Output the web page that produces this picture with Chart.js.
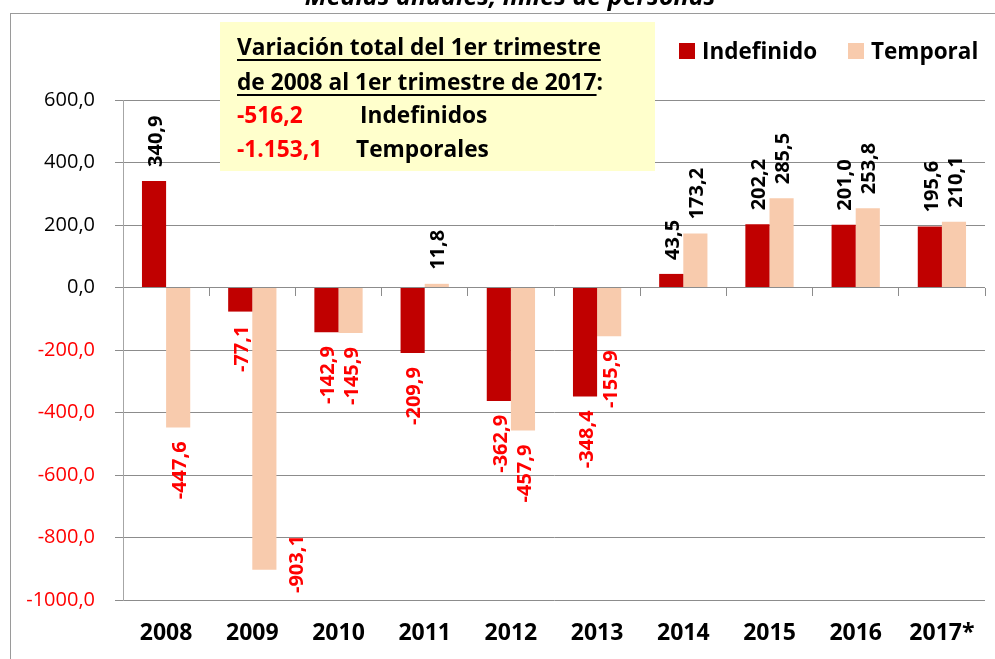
<!DOCTYPE html>
<html>
<head>
<meta charset="utf-8">
<script src="https://cdn.jsdelivr.net/npm/chart.js@4/dist/chart.umd.min.js"></script>
<style>
  html, body { margin: 0; padding: 0; background: #fff; }
  #wrap { width: 995px; height: 659px; position: relative; }
</style>
</head>
<body>
<div id="wrap"><canvas id="chart"></canvas></div>
<script>
const years = ['2008', '2009', '2010', '2011', '2012', '2013', '2014', '2015', '2016', '2017*'];
const indefinido = [340.9, -77.1, -142.9, -209.9, -362.9, -348.4, 43.5, 202.2, 201.0, 195.6];
const temporal = [-447.6, -903.1, -145.9, 11.8, -457.9, -155.9, 173.2, 285.5, 253.8, 210.1];
const yTicks = [600, 400, 200, 0, -200, -400, -600, -800, -1000];

const totalIndefinido = -516.2;
const totalTemporal = -1153.1;

const RED = '#C00000';
const PEACH = '#F8CBAD';
const GRID = '#8c8c8c';
const FONT = '"Open Sans", "Noto Sans", sans-serif';

// 1234.5 -> "1.234,5" ; grouping only for the summary box
function fmt(v, group) {
  const s = Math.abs(v).toFixed(1).split('.');
  let int = s[0];
  if (group) int = int.replace(/\B(?=(\d{3})+(?!\d))/g, '.');
  return (v < 0 ? '-' : '') + int + ',' + s[1];
}

const decorPlugin = {
  id: 'decor',
  beforeDraw(chart) {
    const ctx = chart.ctx;
    ctx.save();
    ctx.fillStyle = '#fff';
    ctx.fillRect(0, 0, chart.width, chart.height);
    ctx.strokeStyle = '#9a9a9a';
    ctx.lineWidth = 1;
    ctx.strokeRect(10.5, 13.5, 1000, 700);
    // title, mostly cut off at the top
    ctx.fillStyle = '#000';
    ctx.font = 'italic bold 25px ' + FONT;
    ctx.textAlign = 'center';
    ctx.textBaseline = 'alphabetic';
    ctx.fillText('Medias anuales, miles de personas', 510, 5);
    ctx.restore();
  },
  afterDatasetsDraw(chart) {
    const ctx = chart.ctx;
    const area = chart.chartArea;
    ctx.save();
    ctx.font = 'bold 20px ' + FONT;
    chart.data.datasets.forEach((ds, di) => {
      const meta = chart.getDatasetMeta(di);
      meta.data.forEach((bar, i) => {
        const v = ds.data[i];
        const txt = fmt(v, false);
        const w = ctx.measureText(txt).width;
        let x = bar.x + 2;
        let y;
        ctx.save();
        ctx.font = 'bold 20px ' + FONT;
        if (v >= 0) {
          ctx.fillStyle = '#000';
          y = bar.y - 14;
          ctx.translate(x, y);
          ctx.rotate(-Math.PI / 2);
          ctx.textAlign = 'left';
        } else {
          ctx.fillStyle = '#FF0000';
          y = bar.y + 14;
          if (y + w > area.bottom - 4) {
            // no room below the bar: put it beside
            x = bar.x + bar.width + 9;
            y = area.bottom - 7 - w;
          }
          ctx.translate(x, y);
          ctx.rotate(-Math.PI / 2);
          ctx.textAlign = 'right';
        }
        ctx.textBaseline = 'middle';
        ctx.fillText(txt, 0, 0);
        ctx.restore();
      });
    });
    ctx.restore();
  },
  afterDraw(chart) {
    const ctx = chart.ctx;
    ctx.save();
    // summary box
    ctx.fillStyle = '#FFFFCC';
    ctx.fillRect(220, 22, 435, 149);
    ctx.textBaseline = 'alphabetic';
    ctx.textAlign = 'left';
    ctx.font = 'bold 22.7px ' + FONT;
    ctx.fillStyle = '#000';
    const l1 = 'Variación total del 1er trimestre';
    const l2 = 'de 2008 al 1er trimestre de 2017';
    ctx.fillText(l1, 237, 55);
    ctx.fillText(l2, 237, 90);
    const w2 = ctx.measureText(l2).width;
    ctx.fillText(':', 237 + w2, 90);
    ctx.fillRect(237, 59, ctx.measureText(l1).width, 2);
    ctx.fillRect(237, 94, w2, 2);
    ctx.fillStyle = '#FF0000';
    ctx.fillText(fmt(totalIndefinido, true), 237, 123);
    ctx.fillText(fmt(totalTemporal, true), 237, 157);
    ctx.fillStyle = '#000';
    ctx.fillText('Indefinidos', 360, 123);
    ctx.fillText('Temporales', 356, 157);

    // legend
    const items = chart.data.datasets.map(d => ({ label: d.label, color: d.backgroundColor }));
    const pos = [679, 848];
    ctx.font = 'bold 22.5px ' + FONT;
    items.forEach((it, k) => {
      ctx.fillStyle = it.color;
      ctx.fillRect(pos[k], 43, 16, 16);
      ctx.fillStyle = '#000';
      ctx.fillText(it.label, pos[k] + 23, 59);
    });
    ctx.restore();
  }
};

new Chart(document.getElementById('chart'), {
  type: 'bar',
  data: {
    labels: years,
    datasets: [
      { label: 'Indefinido', data: indefinido, backgroundColor: RED },
      { label: 'Temporal', data: temporal, backgroundColor: PEACH }
    ]
  },
  options: {
    responsive: true,
    maintainAspectRatio: false,
    animation: false,
    categoryPercentage: 0.56,
    barPercentage: 1,
    layout: { padding: { top: 100, right: 10, left: 0, bottom: 0 } },
    plugins: { legend: { display: false }, tooltip: { enabled: false } },
    scales: {
      x: {
        type: 'category',
        position: { y: 0 },
        grid: { drawOnChartArea: false, drawTicks: true, tickLength: 8, color: GRID, offset: true },
        border: { display: false },
        ticks: { display: false }
      },
      x2: {
        type: 'category',
        labels: years,
        position: 'bottom',
        offset: true,
        grid: { display: false, drawTicks: false },
        border: { display: false },
        ticks: { color: '#000', font: { family: FONT, size: 23, weight: 'bold' }, padding: 20, maxRotation: 0, autoSkip: false },
        afterFit(scale) { scale.height = 59; }
      },
      y: {
        min: -1000,
        max: 600,
        afterBuildTicks(scale) { scale.ticks = yTicks.map(v => ({ value: v })); },
        grid: { color: GRID, tickLength: 8 },
        border: { display: true, color: '#a6a6a6' },
        ticks: {
          padding: 20,
          font: { family: FONT, size: 20 },
          color: ctx => (ctx.tick && ctx.tick.value < 0 ? '#FF0000' : '#000'),
          callback: v => fmt(v, false)
        },
        afterFit(scale) { scale.width = 123; }
      }
    }
  },
  plugins: [decorPlugin]
});
</script>
</body>
</html>
